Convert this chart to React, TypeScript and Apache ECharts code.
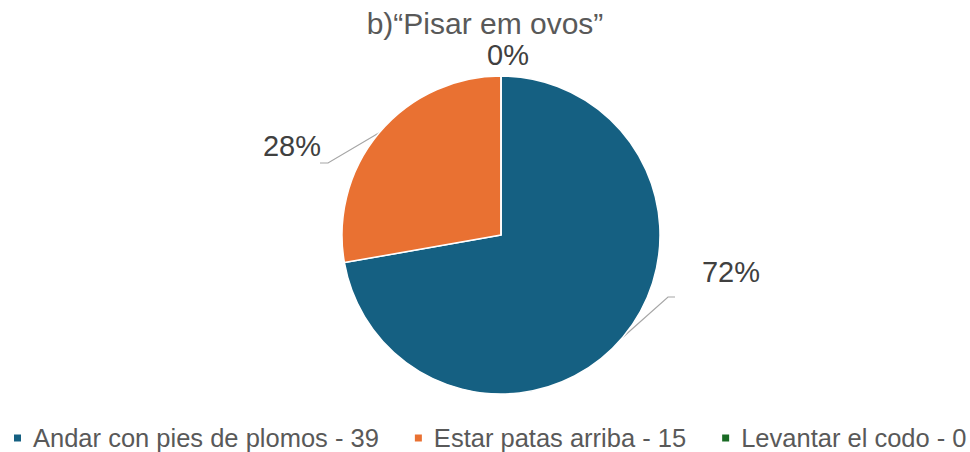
import React, { useEffect, useRef } from "react";
import * as echarts from "echarts";

const title = "b)\u201CPisar em ovos\u201D";
const categories = ["Andar con pies de plomos", "Estar patas arriba", "Levantar el codo"];
const values = [39, 15, 0];
const colors = ["#156082", "#E97132", "#196B24"];

const FONT = "Liberation Sans, Arial, sans-serif";

export default function App() {
  const ref = useRef<HTMLDivElement>(null);
  useEffect(() => {
    document.body.style.margin = "0";
    if (!ref.current) return;
    const chart = echarts.init(ref.current, undefined, { renderer: "svg" });
    const labelSpots: Record<number, { x: number; y: number; elbow?: number[][] }> = {
      0: { x: 731, y: 272, elbow: [[668, 297], [675, 297]] },
      1: { x: 292, y: 146, elbow: [[328, 163], [320, 163]] },
      2: { x: 508, y: 55 },
    };
    chart.setOption({
      animation: false,
      backgroundColor: "#ffffff",
      title: {
        text: title,
        left: "center",
        top: 8,
        padding: 0,
        textStyle: { fontFamily: FONT, fontSize: 30, fontWeight: "normal", color: "#595959" },
      },
      legend: {
        top: 425,
        left: 12,
        width: 958,
        itemWidth: 9,
        itemHeight: 9,
        itemGap: 34,
        padding: 0,
        icon: "rect",
        textStyle: { fontFamily: FONT, fontSize: 25.5, color: "#595959", padding: [0, 0, 0, 6] },
        formatter: (name: string) => {
          const i = categories.indexOf(name);
          return `${name} - ${values[i]}`;
        },
        data: categories,
      },
      series: [
        {
          type: "pie",
          center: [501, 235],
          radius: 159,
          startAngle: 90,
          clockwise: true,
          percentPrecision: 0,
          stillShowZeroSum: true,
          itemStyle: { borderColor: "#ffffff", borderWidth: 1.5 },
          label: {
            show: true,
            formatter: "{d}%",
            fontFamily: FONT,
            fontSize: 29,
            color: "#404040",
          },
          labelLine: { show: true, lineStyle: { color: "#a6a6a6", width: 1.2 } },
          labelLayout: (params: any) => {
            const s = labelSpots[params.dataIndex];
            if (!s) return {};
            const out: any = { x: s.x, y: s.y, align: "center", verticalAlign: "middle" };
            if (s.elbow && params.labelLinePoints && params.labelLinePoints[0]) {
              out.labelLinePoints = [params.labelLinePoints[0], ...s.elbow];
            }
            return out;
          },
          data: categories.map((c, i) => ({
            name: c,
            value: values[i],
            itemStyle: { color: colors[i] },
            ...(values[i] === 0 ? { labelLine: { show: false } } : {}),
          })),
        },
      ],
    });
    return () => chart.dispose();
  }, []);
  return <div ref={ref} style={{ width: 970, height: 452 }} />;
}
